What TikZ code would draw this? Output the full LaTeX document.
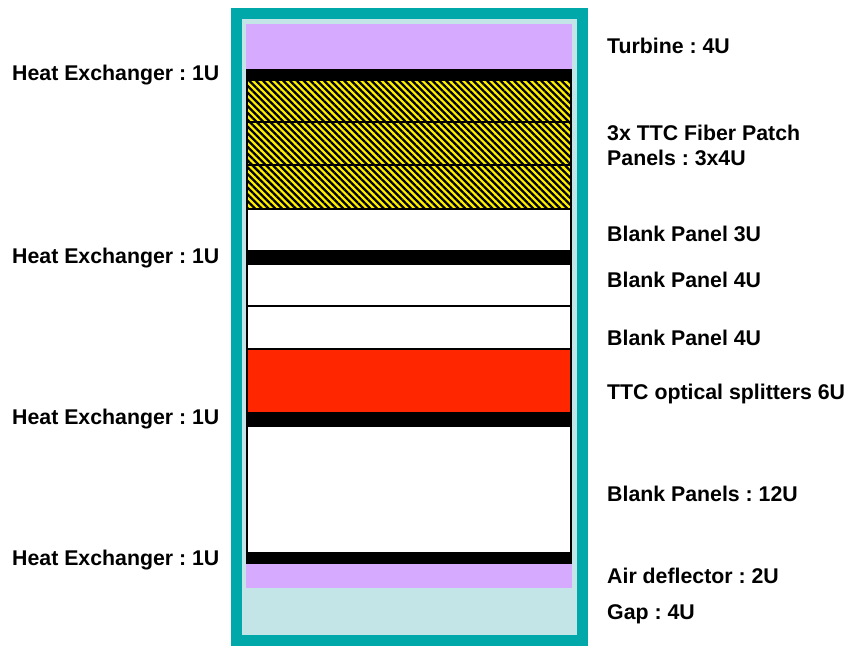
\documentclass[tikz,border=0pt]{standalone}
\usepackage{fontspec}
\setmainfont{Liberation Sans}
\usetikzlibrary{patterns.meta}
\definecolor{tealframe}{RGB}{0,168,170}
\definecolor{lightcyan}{RGB}{195,229,231}
\definecolor{lilac}{RGB}{214,170,255}
\definecolor{redpanel}{RGB}{255,38,0}
\definecolor{yellowpanel}{RGB}{255,240,0}
\tikzset{
  lbl/.style={anchor=base west, inner sep=0pt, font=\fontsize{21.3}{25}\selectfont\bfseries\frenchspacing, align=left},
  bar/.style={fill=black, draw=none},
  blank/.style={fill=white, draw=black, line width=1.2pt},
  hatchlines/.style={pattern={Lines[angle=-45, distance=4.8pt, line width=2.3pt]}, pattern color=black},
  redbox/.style={fill=redpanel, draw=black, line width=1.2pt},
  lilacbox/.style={fill=lilac, draw=none},
}
\begin{document}
\begin{tikzpicture}[x=1pt, y=-1pt]
\useasboundingbox (0,0) rectangle (853,646);
% frame
\draw[tealframe, line width=11pt, fill=lightcyan] (236.5,13.5) rectangle (582.5,640.5);
% top turbine
\fill[lilacbox] (246,24) rectangle (572,69);
\fill[bar] (246,69) rectangle (572,80);
% hatched patch panels
\foreach \a/\b in {80/122,122/165,165/209}{
  \fill[yellowpanel] (247,\a) rectangle (571,\b);
  \fill[hatchlines] (247,\a) rectangle (571,\b);
  \draw[black, line width=1.2pt] (247,\a) rectangle (571,\b);
}
\draw[blank] (247,209) rectangle (571,251);
\fill[bar] (246,251) rectangle (572,264);
\draw[blank] (247,264) rectangle (571,306);
\draw[blank] (247,306) rectangle (571,349);
\draw[redbox] (247,349) rectangle (571,413);
\fill[bar] (246,413) rectangle (572,426);
\draw[blank] (247,426) rectangle (571,553);
\fill[bar] (246,553) rectangle (572,564);
\fill[lilacbox] (246,564) rectangle (572,588);
% left labels
\node[lbl] (he1) at (12,80) {Heat Exchanger : 1U};
\node[lbl] (he2) at (12,263) {Heat Exchanger : 1U};
\node[lbl] (he3) at (12,424) {Heat Exchanger : 1U};
\node[lbl] (he4) at (12,565) {Heat Exchanger : 1U};
% right labels
\node[lbl] (turb) at (607,53) {Turbine : 4U};
\node[lbl] (ttc1) at (607,140) {3x TTC Fiber Patch};
\node[lbl] (ttc2) at (607,165) {Panels : 3x4U};
\node[lbl] (bp3) at (607,241) {Blank Panel 3U};
\node[lbl] (bp4a) at (607,287) {Blank Panel 4U};
\node[lbl] (bp4b) at (607,345) {Blank Panel 4U};
\node[lbl] (spl) at (607,399) {TTC optical splitters 6U};
\node[lbl] (bp12) at (607,501) {Blank Panels : 12U};
\node[lbl] (air) at (607,583) {Air deflector : 2U};
\node[lbl] (gap) at (607,619) {Gap : 4U};
\end{tikzpicture}
\end{document}
